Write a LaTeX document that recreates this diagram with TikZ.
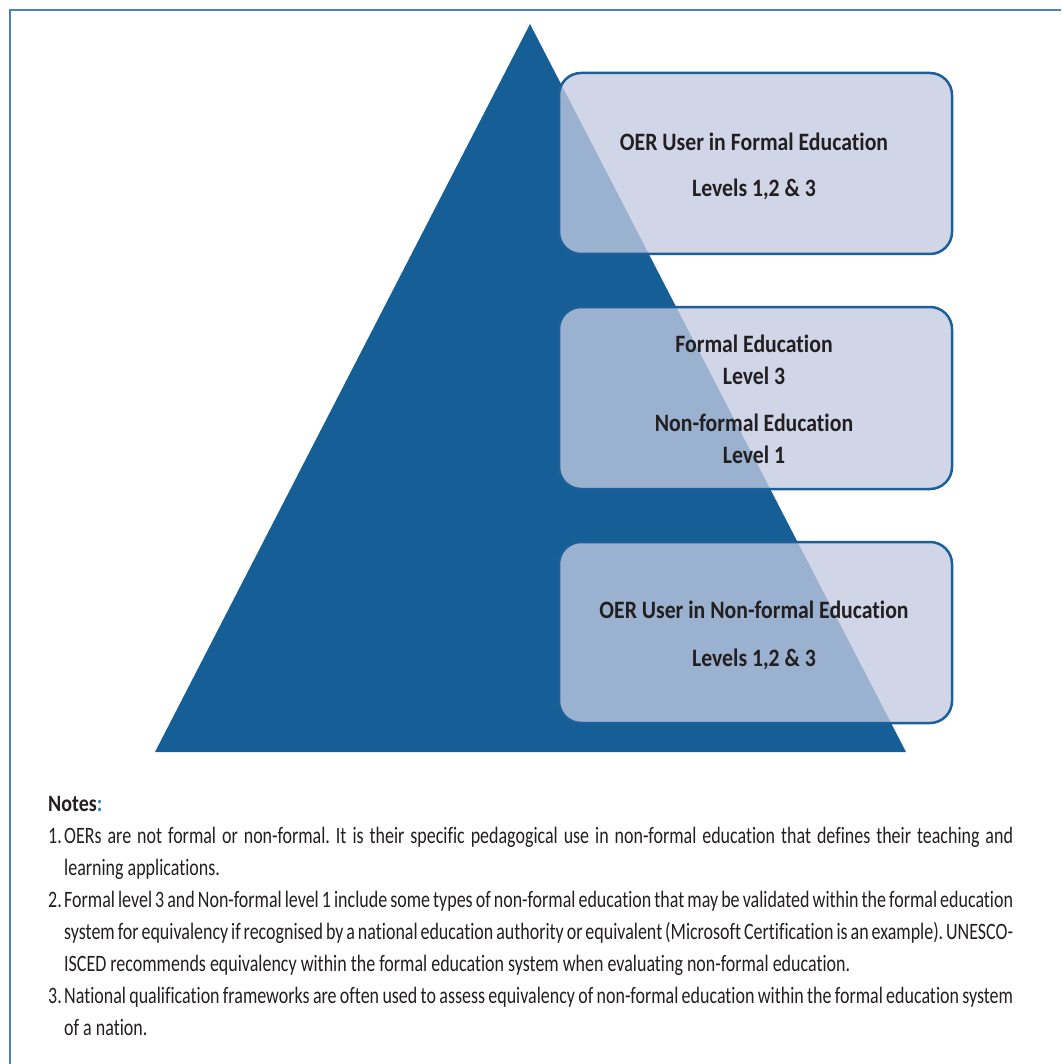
\documentclass[tikz,border=0pt]{standalone}
\usepackage{fontspec}
\setmainfont{Carlito}
\newfontfamily\boxfont[FakeStretch=0.87,Ligatures=NoCommon]{Carlito Bold}
\newfontfamily\notefont[FakeStretch=0.765,Ligatures=NoCommon]{Carlito}
\newfontfamily\notebold[FakeStretch=0.85]{Carlito Bold}
\definecolor{tri}{RGB}{22,94,150}
\definecolor{boxfill}{RGB}{194,202,225}
\definecolor{boxline}{RGB}{28,96,155}
\definecolor{txt}{RGB}{35,31,32}
\definecolor{frame}{RGB}{75,130,185}
\definecolor{colon}{RGB}{50,120,190}
\tikzset{
  infobox/.style={draw=boxline, line width=2.5pt, fill=boxfill, fill opacity=0.77, draw opacity=1,
    rounded corners=22pt, minimum width=393pt, inner sep=0pt},
  boxtxt/.style={anchor=base, inner sep=0pt, text=txt, font=\boxfont\fontsize{25}{30}\selectfont},
  notetxt/.style={anchor=base west, inner sep=0pt, text=txt, font=\notefont\fontsize{23.5}{32}\selectfont\frenchspacing},
}
\newcommand{\jline}[1]{\makebox[949pt][s]{#1}}
\begin{document}
\begin{tikzpicture}[x=1pt,y=-1pt]
\useasboundingbox (0,0) rectangle (1061,1064);
% frame
\draw[frame, line width=2pt] (10,1064) -- (10,10) -- (1061,10);
% pyramid
\fill[tri] (530,24) -- (155,752) -- (906,752) -- cycle;
% boxes
\node[infobox, minimum height=181pt] (b1) at (755.5,163.5) {};
\node[infobox, minimum height=182pt] (b2) at (755.5,398) {};
\node[infobox, minimum height=181pt] (b3) at (755.5,632.5) {};
% box texts
\node[boxtxt] (t1a) at (754,151) {OER User in Formal Education};
\node[boxtxt] (t1b) at (754,197) {Levels 1,2 \& 3};
\node[boxtxt] (t2a) at (754,352) {Formal Education};
\node[boxtxt] (t2b) at (754,384) {Level 3};
\node[boxtxt] (t2c) at (754,431) {Non-formal Education};
\node[boxtxt] (t2d) at (754,463) {Level 1};
\node[boxtxt] (t3a) at (754,618) {OER User in Non-formal Education};
\node[boxtxt] (t3b) at (754,666) {Levels 1,2 \& 3};
% notes
\node[notetxt] (nh) at (48,811) {\notebold Notes\textcolor{colon}{:}};
\node[notetxt] (n1) at (48,843) {1.};
\node[notetxt] (l1) at (64,843) {\jline{OERs are not formal or non-formal. It is their specific pedagogical use in non-formal education that defines their teaching and}};
\node[notetxt] (l2) at (64,875) {learning applications.};
\node[notetxt] (n2) at (48,907) {2.};
\node[notetxt] (l3) at (64,907) {\jline{Formal level 3 and Non-formal level 1 include some types of non-formal education that may be validated within the formal education}};
\node[notetxt] (l4) at (64,939) {\jline{system for equivalency if recognised by a national education authority or equivalent (Microsoft Certification is an example). UNESCO-}};
\node[notetxt] (l5) at (64,971) {ISCED recommends equivalency within the formal education system when evaluating non-formal education.};
\node[notetxt] (n3) at (48,1003) {3.};
\node[notetxt] (l6) at (64,1003) {\jline{National qualification frameworks are often used to assess equivalency of non-formal education within the formal education system}};
\node[notetxt] (l7) at (64,1035) {of a nation.};
\end{tikzpicture}
\end{document}
